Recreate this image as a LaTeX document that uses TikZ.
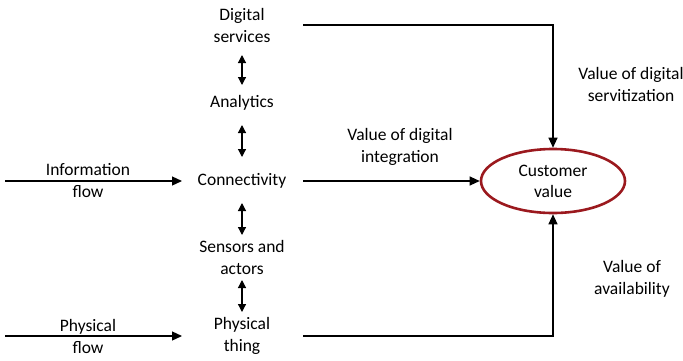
\documentclass[tikz,border=0pt]{standalone}
\usepackage{fontspec}
\setmainfont{Carlito}
\usetikzlibrary{arrows.meta,shapes.geometric}
\definecolor{ellred}{RGB}{155,25,30}
\begin{document}
\begin{tikzpicture}[x=1pt,y=-1pt,
  lbl/.style={align=center,font=\fontsize{17.5}{22}\selectfont,inner sep=0pt},
  conn/.style={line width=1.2pt,-{Triangle[length=10pt,width=9pt]}},
  dbl/.style={line width=1.2pt,{Triangle[length=8pt,width=8pt]}-{Triangle[length=8pt,width=8pt]}}]
\useasboundingbox (0,0) rectangle (683,360);
\node[lbl] (ds) at (242,25) {Digital\\services};
\node[lbl] (an) at (242,103) {Analytics};
\node[lbl] (co) at (242,181) {Connectivity};
\node[lbl] (sa) at (242,257) {Sensors and\\actors};
\node[lbl] (pt) at (242,336) {Physical\\thing};
\node[draw=ellred,line width=2.6pt,ellipse,minimum width=144pt,minimum height=64pt,inner sep=0pt,font=\fontsize{17.5}{21}\selectfont,align=center] (cv) at (553,181) {Customer\\value};
\node[lbl] (if) at (88,181) {Information\\flow};
\node[lbl] (pf) at (88,336) {Physical\\flow};
\node[lbl] (vds) at (631,84) {Value of digital\\servitization};
\node[lbl] (vdi) at (400,147) {Value of digital\\integration};
\node[lbl] (va) at (632,279) {Value of\\availability};
\coordinate (ifs) at (5,181);
\coordinate (pfs) at (5,336);
\draw[conn] (ifs) -- (182,181);
\draw[conn] (pfs) -- (182,336);
\draw[dbl] (242,55) -- (242,85);
\draw[dbl] (242,125) -- (242,157);
\draw[dbl] (242,203) -- (242,235);
\draw[dbl] (242,280) -- (242,312);
\draw[conn] (303,25) -| (cv.north);
\draw[conn] (303,181) -- (cv.west);
\draw[conn] (303,336) -| (cv.south);
\end{tikzpicture}
\end{document}
